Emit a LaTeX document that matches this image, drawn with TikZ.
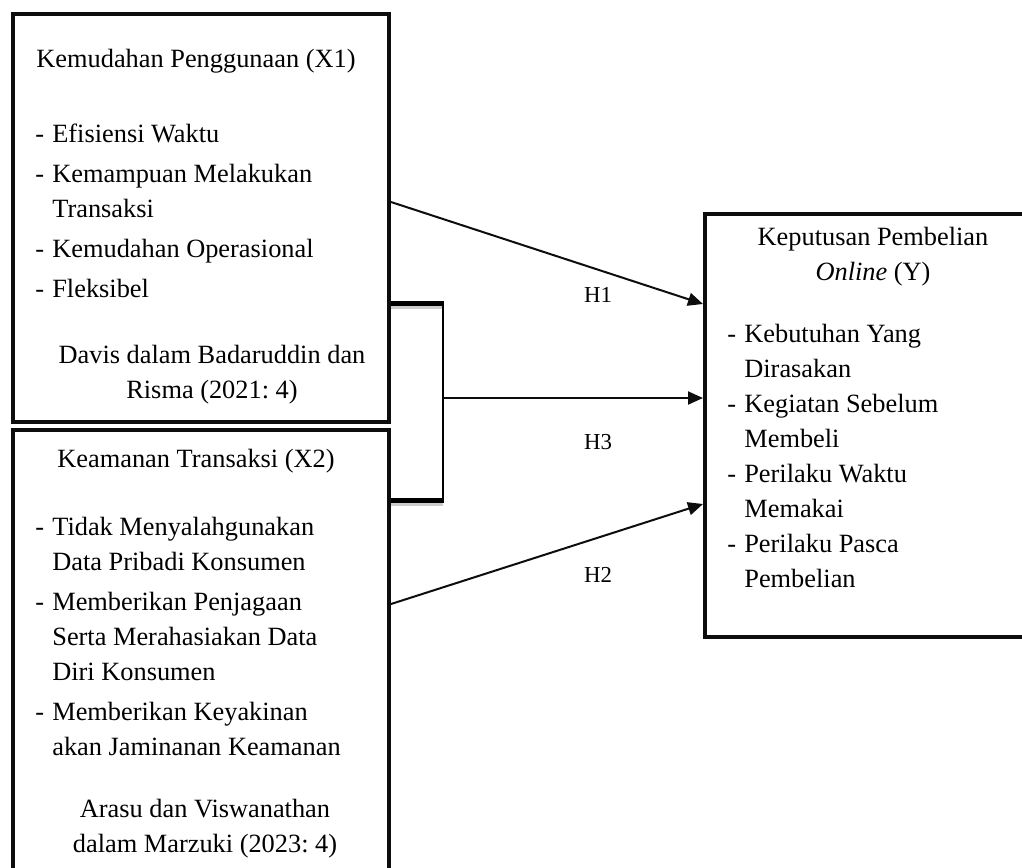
\documentclass[tikz,border=0pt]{standalone}
\usepackage{fontspec}
\setmainfont{Liberation Serif}
\usetikzlibrary{arrows.meta}
\usetikzlibrary{positioning}
\tikzset{
  VarBox/.style={
    rectangle, draw=black!95, line width=0.8mm,
    inner sep=0pt, anchor=north west,
  },
  BoxText/.style={
    inner sep=0pt, font=\fontsize{15}{19.9}\selectfont\frenchspacing,
  },
  HLabel/.style={inner sep=0pt, font=\fontsize{13}{15}\selectfont},
  Link/.style={line width=0.4mm, draw=black!95, -{Triangle[length=3mm, width=2.6mm]}},
}
\newcommand{\Dash}{\makebox[3.4mm][l]{-}}
\newcommand{\Hang}{\hspace*{3.4mm}}

\begin{document}
\begin{tikzpicture}
\clip (0,0) rectangle (20.44,-17.34);
\node[VarBox, minimum width=7.52cm, minimum height=8.16cm] (X1) at (0.22,-0.24) {};
\node[VarBox, minimum width=7.52cm, minimum height=9.04cm] (X2) at (0.22,-8.56) {};
\node[VarBox, minimum width=6.64cm, minimum height=8.46cm] (Y) at (14.06,-4.24) {};
% texts of X1 (base = last line)
\node[BoxText, anchor=base] (X1title) at (3.92,-1.34) {Kemudahan Penggunaan (X1)};
\node[BoxText, anchor=base west, align=left] (X1list) at (0.70,-5.94) {\Dash Efisiensi Waktu\\[1mm]
  \Dash Kemampuan Melakukan\\ \Hang Transaksi\\[1mm]
  \Dash Kemudahan Operasional\\[1mm]
  \Dash Fleksibel};
\node[BoxText, anchor=base, align=center] (X1src) at (4.24,-7.96) {Davis dalam Badaruddin dan\\Risma (2021: 4)};
% texts of X2
\node[BoxText, anchor=base] (X2title) at (3.92,-9.34) {Keamanan Transaksi (X2)};
\node[BoxText, anchor=base west, align=left] (X2list) at (0.70,-15.10) {\Dash Tidak Menyalahgunakan\\ \Hang Data Pribadi Konsumen\\[1mm]
  \Dash Memberikan Penjagaan\\ \Hang Serta Merahasiakan Data\\ \Hang Diri Konsumen\\[1mm]
  \Dash Memberikan Keyakinan\\ \Hang akan Jaminanan Keamanan};
\node[BoxText, anchor=base, align=center] (X2src) at (4.10,-17.04) {Arasu dan Viswanathan\\dalam Marzuki (2023: 4)};
% texts of Y
\node[BoxText, anchor=base, align=center] (Ytitle) at (17.46,-5.60) {Keputusan Pembelian\\\textit{Online} (Y)};
\node[BoxText, anchor=base west, align=left] (Ylist) at (14.54,-11.74) {\Dash Kebutuhan Yang\\ \Hang Dirasakan\\
  \Dash Kegiatan Sebelum\\ \Hang Membeli\\
  \Dash Perilaku Waktu\\ \Hang Memakai\\
  \Dash Perilaku Pasca\\ \Hang Pembelian};
% bracket for H3
\coordinate (BrTop) at (8.86,-6.06);
\coordinate (BrMid) at (8.86,-7.96);
\coordinate (BrBot) at (8.86,-10.00);
\coordinate (BrTopL) at (X1.east |- BrTop);
\coordinate (BrBotL) at (X2.east |- BrBot);
\draw[line width=1mm, black!20] ([yshift=-0.7mm]BrTopL) -- ([yshift=-0.7mm]BrTop);
\draw[line width=1mm, black!20] ([yshift=-0.7mm]BrBotL) -- ([yshift=-0.7mm]BrBot);
\draw[line width=1mm] (BrTopL) -- ([xshift=0.2mm]BrTop);
\draw[line width=1mm] (BrBotL) -- ([xshift=0.2mm]BrBot);
\draw[line width=0.4mm] (BrTop) -- (BrBot);
% arrows
\draw[Link] ([yshift=3.2mm]X1.east) -- ([yshift=24.3mm]Y.west);
\draw[Link] (BrMid) -- (Y.west |- BrMid);
\draw[Link] ([yshift=10.4mm]X2.east) -- ([yshift=-15.7mm]Y.west);
\node[HLabel] (H1) at (11.96,-5.90) {H1};
\node[HLabel] (H3) at (11.96,-8.84) {H3};
\node[HLabel] (H2) at (11.96,-11.50) {H2};
\end{tikzpicture}
\end{document}
